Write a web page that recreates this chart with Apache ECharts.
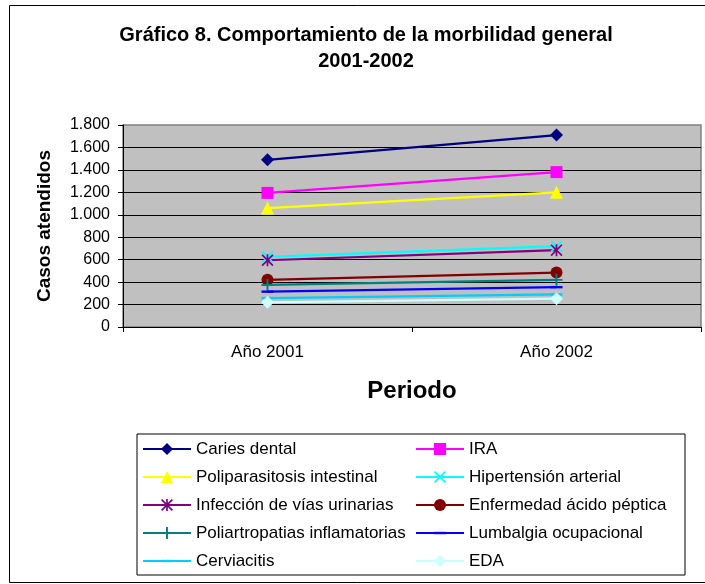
<!DOCTYPE html>
<html>
<head>
<meta charset="utf-8">
<script src="https://cdn.jsdelivr.net/npm/echarts@6/dist/echarts.min.js"></script>
<style>
html,body{margin:0;padding:0;background:#fff;}
#chart{width:705px;height:584px;}
</style>
</head>
<body>
<div id="chart"></div>
<script>
const categories = ['Año 2001', 'Año 2002'];
const yTicks = [0, 200, 400, 600, 800, 1000, 1200, 1400, 1600, 1800];

const cariesDental = [1490, 1710];
const ira = [1195, 1380];
const poliparasitosis = [1060, 1200];
const hipertension = [625, 720];
const infeccionUrinaria = [595, 685];
const enfermedadPeptica = [420, 485];
const poliartropatias = [375, 420];
const lumbalgia = [315, 355];
const cerviacitis = [258, 290];
const eda = [220, 252];

const seriesNames = [
  'Caries dental', 'IRA', 'Poliparasitosis intestinal', 'Hipertensión arterial',
  'Infección de vías urinarias', 'Enfermedad ácido péptica', 'Poliartropatias inflamatorias',
  'Lumbalgia ocupacional', 'Cerviacitis', 'EDA'
];
const seriesValues = [cariesDental, ira, poliparasitosis, hipertension, infeccionUrinaria,
  enfermedadPeptica, poliartropatias, lumbalgia, cerviacitis, eda];

const FONT = '"Liberation Sans", Arial, sans-serif';
const X_PATH = 'path://M1,0L5,4L9,0L10,1L6,5L10,9L9,10L5,6L1,10L0,9L4,5L0,1Z';
const STAR_PATH = 'path://M1,0L5,4L9,0L10,1L6,5L10,9L9,10L5,6L1,10L0,9L4,5L0,1Z M4.3,0L5.7,0L5.7,10L4.3,10Z';
const PLUS_PATH = 'path://M4.2,0L5.8,0L5.8,4.2L10,4.2L10,5.8L5.8,5.8L5.8,10L4.2,10L4.2,5.8L0,5.8L0,4.2L4.2,4.2Z';
const DASH_PATH = 'path://M0,0 M0,4L10,4L10,6L0,6Z M10,10';

const styles = [
  { color: '#000080', symbol: 'diamond', size: 13 },
  { color: '#FF00FF', symbol: 'rect', size: 12 },
  { color: '#FFFF00', symbol: 'triangle', size: 13 },
  { color: '#00FFFF', symbol: X_PATH, size: 12 },
  { color: '#800080', symbol: STAR_PATH, size: 12 },
  { color: '#800000', symbol: 'circle', size: 12 },
  { color: '#008080', symbol: PLUS_PATH, size: 12 },
  { color: '#0000FF', symbol: DASH_PATH, size: 12 },
  { color: '#00CCFF', symbol: DASH_PATH, size: 12 },
  { color: '#CCFFFF', symbol: 'diamond', size: 13 }
];

const series = seriesNames.map((name, i) => ({
  name: name,
  type: 'line',
  data: seriesValues[i],
  symbol: styles[i].symbol,
  symbolSize: styles[i].size,
  showAllSymbol: true,
  lineStyle: { color: styles[i].color, width: 2.2 },
  itemStyle: { color: styles[i].color },
  emphasis: { disabled: true },
  animation: false
}));

const chart = echarts.init(document.getElementById('chart'));
chart.setOption({
  animation: false,
  backgroundColor: '#fff',
  title: {
    text: 'Gráfico 8. Comportamiento de la morbilidad general\n2001-2002',
    left: 366,
    top: 22,
    padding: 0,
    textAlign: 'center',
    textStyle: { fontFamily: FONT, fontSize: 20, fontWeight: 'bold', color: '#000', lineHeight: 26 }
  },
  graphic: [{
    type: 'rect',
    shape: { x: 9.5, y: 5.5, width: 720, height: 577 },
    style: { fill: 'none', stroke: '#000', lineWidth: 1 },
    silent: true, z: -1
  }],
  legend: {
    left: 137,
    top: 434,
    width: 545,
    padding: [5, 5, 4, 5],
    orient: 'horizontal',
    itemWidth: 48,
    itemHeight: 15,
    itemGap: 8,
    borderColor: '#000',
    borderWidth: 1,
    selectedMode: false,
    data: seriesNames,
    textStyle: { fontFamily: FONT, fontSize: 17, color: '#000', width: 211, lineHeight: 20, overflow: 'none' }
  },
  grid: {
    left: 123, right: 4, top: 125, bottom: 257,
    show: true, backgroundColor: '#C0C0C0', borderColor: '#808080', borderWidth: 1.5
  },
  xAxis: {
    type: 'category',
    data: categories,
    boundaryGap: true,
    name: 'Periodo',
    nameLocation: 'middle',
    nameGap: 52,
    nameTextStyle: { fontFamily: FONT, fontSize: 24, fontWeight: 'bold', color: '#000' },
    axisLine: { show: true, lineStyle: { color: '#000', width: 1 } },
    axisTick: { show: true, length: 5, lineStyle: { color: '#000' } },
    axisLabel: { fontFamily: FONT, fontSize: 17, color: '#000', margin: 17 },
    splitLine: { show: false }
  },
  yAxis: {
    type: 'value',
    min: yTicks[0],
    max: yTicks[yTicks.length - 1],
    interval: 200,
    name: 'Casos atendidos',
    nameLocation: 'middle',
    nameGap: 69,
    nameTextStyle: { fontFamily: FONT, fontSize: 19, fontWeight: 'bold', color: '#000' },
    axisLine: { show: true, lineStyle: { color: '#000', width: 1 } },
    axisTick: { show: true, length: 5, lineStyle: { color: '#000' } },
    axisLabel: {
      fontFamily: FONT, fontSize: 16, color: '#000', margin: 13,
      formatter: v => v.toString().replace(/\B(?=(\d{3})+(?!\d))/g, '.')
    },
    splitLine: { show: true, showMaxLine: false, lineStyle: { color: '#000', width: 1 } }
  },
  series: series
});
</script>
</body>
</html>
